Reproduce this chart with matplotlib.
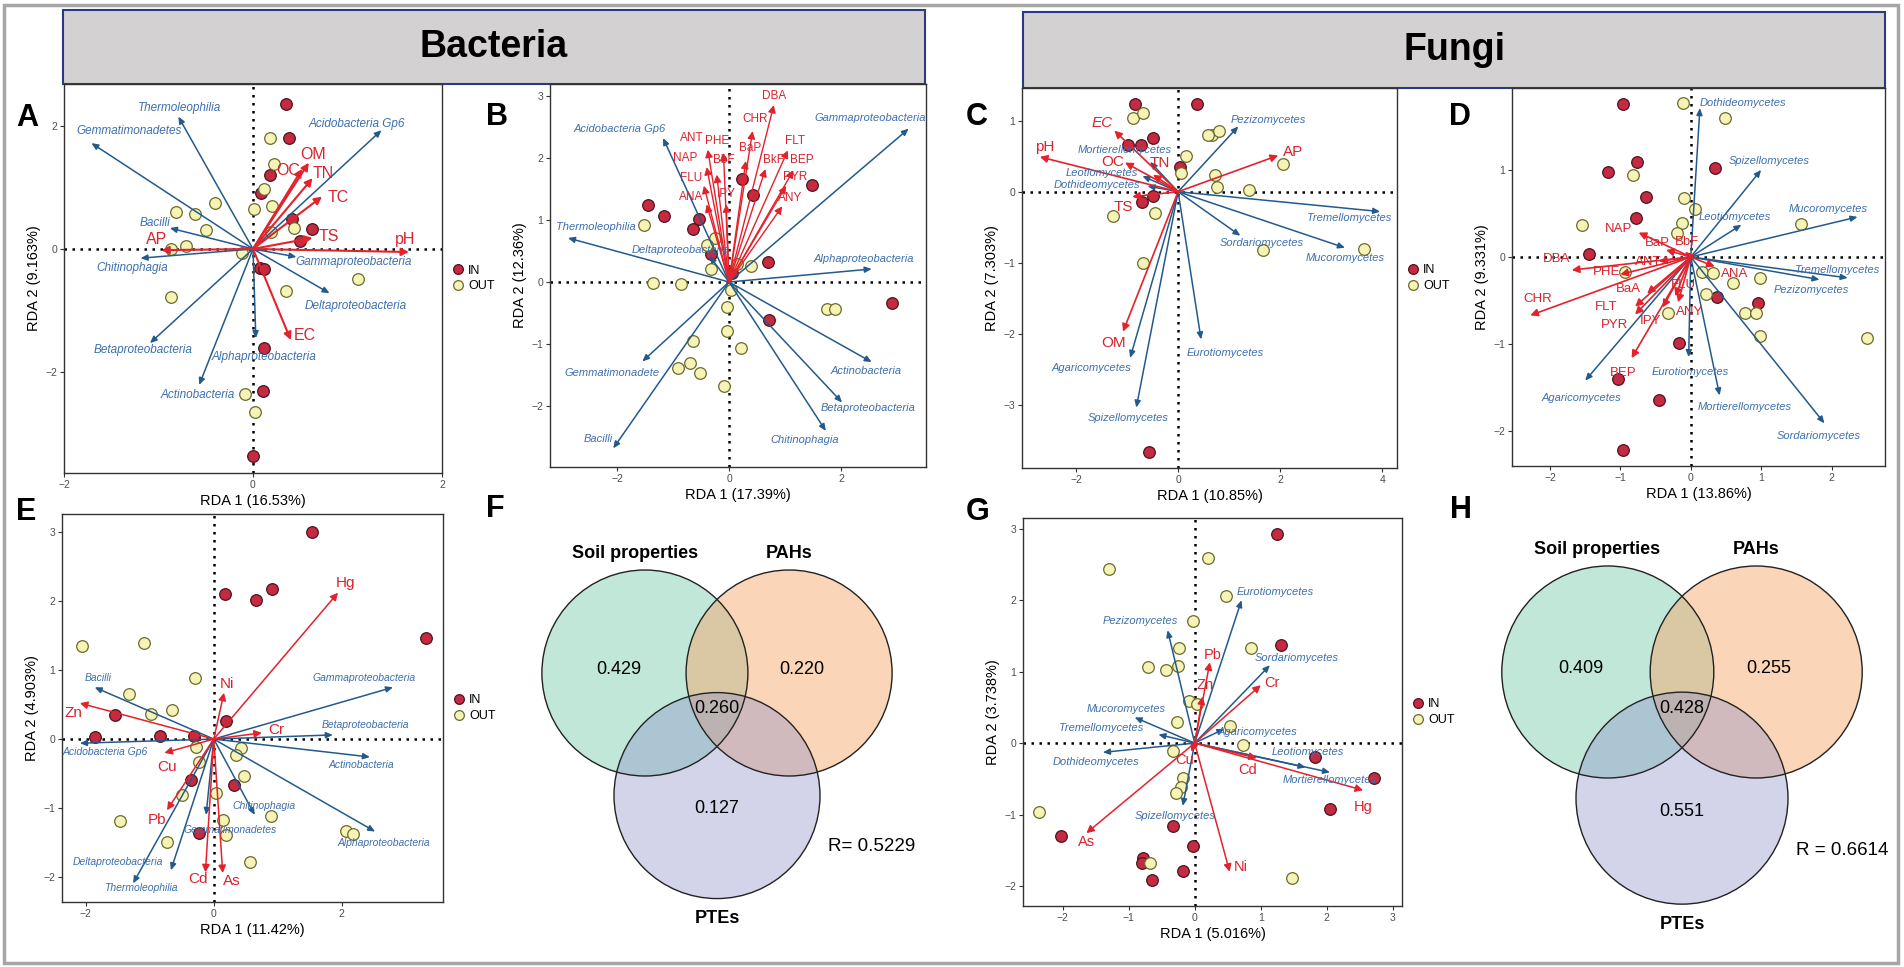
import matplotlib
matplotlib.use("Agg")
import matplotlib.pyplot as plt
from matplotlib.patches import Rectangle, Circle
from matplotlib.lines import Line2D

plt.rcParams['font.family'] = ['Liberation Sans', 'DejaVu Sans']

# ---------------- data ----------------
# Panel A: bacteria vs soil properties
A_in = [(0.35, 2.36), (0.38, 1.80), (0.18, 1.20), (0.08, 0.91), (0.41, 0.49), (0.62, 0.33),
        (0.50, 0.13), (0.07, -0.31), (0.12, -0.33), (0.12, -1.61), (0.11, -2.31), (0.0, -3.37)]
A_out = [(0.18, 1.80), (0.22, 1.38), (0.12, 0.97), (0.01, 0.65), (0.20, 0.69), (-0.40, 0.75),
         (-0.81, 0.60), (-0.61, 0.57), (-0.50, 0.31), (-0.87, 0.0), (-0.71, 0.05), (-0.12, -0.06),
         (0.19, 0.28), (0.43, 0.34), (-0.87, -0.78), (0.35, -0.68), (1.11, -0.49), (-0.08, -2.36),
         (0.02, -2.65)]
A_sp = ["Thermoleophilia", "Gemmatimonadetes", "Acidobacteria Gp6", "Bacilli", "Chitinophagia",
        "Gammaproteobacteria", "Deltaproteobacteria", "Betaproteobacteria", "Alphaproteobacteria",
        "Actinobacteria"]
A_sp_tip = [(-0.79, 2.15), (-1.71, 1.72), (1.36, 1.93), (-0.88, 0.34), (-1.19, -0.15),
            (0.46, -0.13), (0.81, -0.72), (-1.09, -1.53), (0.03, -1.45), (-0.57, -2.21)]
A_sp_lab = [(-0.78, 2.29), (-1.31, 1.92), (1.10, 2.03), (-1.04, 0.42), (-1.28, -0.31),
            (1.06, -0.21), (1.09, -0.93), (-1.16, -1.64), (0.12, -1.75), (-0.59, -2.37)]
A_env = ["OM", "OC", "TN", "TC", "TS", "pH", "AP", "EC"]
A_env_tip = [(0.59, 1.40), (0.52, 1.30), (0.63, 1.15), (0.73, 0.85), (0.63, 0.18),
             (1.65, -0.05), (-0.97, -0.02), (0.40, -1.48)]
A_env_lab = [(0.64, 1.54), (0.37, 1.27), (0.74, 1.23), (0.90, 0.83), (0.80, 0.20),
             (1.61, 0.15), (-1.02, 0.15), (0.55, -1.40)]

# Panel B: bacteria vs PAHs
B_in = [(-1.45, 1.24), (-1.16, 1.06), (-0.64, 0.85), (-0.54, 1.02), (-0.32, 0.45), (0.23, 1.66),
        (0.43, 1.40), (0.70, 0.32), (0.71, -0.61), (0.05, 0.15), (1.48, 1.56), (2.91, -0.34)]
B_out = [(-1.52, 0.92), (-0.25, 0.71), (-0.39, 0.60), (-0.32, 0.21), (0.14, 0.29), (0.39, 0.26),
         (-1.36, -0.02), (-0.86, -0.03), (0.04, -0.13), (-0.04, -0.40), (-0.04, -0.79),
         (-0.64, -0.95), (0.21, -1.06), (-0.70, -1.30), (-0.91, -1.39), (1.75, -0.44),
         (1.89, -0.44), (-0.52, -1.47), (-0.09, -1.68)]
B_sp = ["Acidobacteria Gp6", "Thermoleophilia", "Deltaproteobacteria", "Gemmatimonadete",
        "Bacilli", "Gammaproteobacteria", "Alphaproteobacteria", "Actinobacteria",
        "Betaproteobacteria", "Chitinophagia"]
B_sp_tip = [(-1.18, 2.32), (-2.88, 0.71), (-0.35, 0.42), (-1.55, -1.28), (-2.07, -2.68),
            (3.21, 2.47), (2.55, 0.21), (2.55, -1.29), (2.02, -1.94), (1.73, -2.40)]
B_sp_lab = [(-1.95, 2.47), (-2.38, 0.89), (-0.86, 0.52), (-2.09, -1.47), (-2.34, -2.53),
            (2.52, 2.65), (2.40, 0.37), (2.45, -1.44), (2.49, -2.03), (1.36, -2.55)]
B_env = ["DBA", "CHR", "FLT", "ANT", "PHE", "BaP", "NAP", "BbF", "BkF", "BEP",
         "FLU", "PYR", "ANA", "IPY", "ANY"]
B_env_tip = [(0.80, 2.85), (0.42, 2.43), (1.05, 2.12), (-0.38, 2.13), (-0.10, 2.08), (0.30, 1.95),
             (-0.40, 1.85), (-0.22, 1.73), (0.65, 1.82), (1.15, 1.80), (-0.45, 1.55),
             (1.02, 1.55), (-0.40, 1.25), (-0.05, 1.25), (0.95, 1.22)]
B_env_lab = [(0.80, 3.00), (0.46, 2.63), (1.18, 2.27), (-0.66, 2.32), (-0.21, 2.27), (0.38, 2.16),
             (-0.78, 2.00), (-0.10, 1.97), (0.80, 1.97), (1.30, 1.97), (-0.68, 1.68),
             (1.18, 1.69), (-0.68, 1.37), (-0.04, 1.42), (1.10, 1.35)]

# Panel C: fungi vs soil properties
C_in = [(-0.84, 1.23), (0.37, 1.24), (-0.98, 0.66), (-0.73, 0.66), (-0.49, 0.75), (0.04, 0.35),
        (-0.49, -0.06), (-0.71, -0.15), (-0.57, -3.66)]
C_out = [(0.67, 0.80), (0.80, 0.85), (0.73, 0.23), (0.76, 0.06), (1.39, 0.03), (2.06, 0.39),
         (1.67, -0.82), (3.65, -0.80), (-0.88, 1.04), (-0.69, 1.11), (0.16, 0.50), (0.06, 0.27),
         (0.59, 0.80), (-1.27, -0.34), (-0.45, -0.30), (-0.69, -1.00)]
C_sp = ["Mortierellomycetes", "Leotiomycetes", "Dothideomycetes", "Pezizomycetes",
        "Tremellomycetes", "Sordariomycetes", "Mucoromycetes", "Eurotiomycetes",
        "Agaricomycetes", "Spizellomycetes"]
C_sp_tip = [(-0.55, 0.42), (-0.70, 0.22), (-0.60, 0.08), (1.18, 0.92), (3.96, -0.28),
            (1.22, -0.62), (3.27, -0.79), (0.45, -2.08), (-0.94, -2.34), (-0.82, -3.04)]
C_sp_lab = [(-1.04, 0.59), (-1.49, 0.27), (-1.59, 0.10), (1.77, 1.01), (3.35, -0.37),
            (1.64, -0.72), (3.28, -0.93), (0.92, -2.27), (-1.69, -2.48), (-0.98, -3.18)]
C_env = ["EC", "pH", "OC", "TN", "TS", "OM", "AP"]
C_env_tip = [(-1.25, 0.86), (-2.71, 0.49), (-1.04, 0.41), (-0.49, 0.24), (-0.90, -0.07),
             (-1.08, -1.97), (1.96, 0.51)]
C_env_lab = [(-1.49, 0.97), (-2.61, 0.63), (-1.29, 0.42), (-0.35, 0.41), (-1.08, -0.21),
             (-1.27, -2.13), (2.25, 0.56)]

# Panel D: fungi vs PAHs
D_in = [(-0.96, 1.76), (-0.77, 1.09), (-1.18, 0.97), (0.34, 1.02), (-0.64, 0.69), (-0.78, 0.45),
        (0.37, -0.46), (0.96, -0.53), (-0.17, -0.99), (-0.45, -1.64), (-1.45, 0.03),
        (-1.04, -1.40), (-0.96, -2.22)]
D_out = [(-0.11, 1.77), (0.48, 1.60), (-0.82, 0.94), (-0.09, 0.68), (0.06, 0.55), (-0.13, 0.39),
         (-0.20, 0.28), (1.57, 0.38), (-0.94, -0.17), (0.16, -0.17), (0.31, -0.18), (0.60, -0.30),
         (0.98, -0.24), (0.21, -0.43), (-0.33, -0.64), (0.77, -0.64), (0.93, -0.64), (0.99, -0.91),
         (2.51, -0.93), (-1.55, 0.37)]
D_sp = ["Dothideomycetes", "Spizellomycetes", "Leotiomycetes", "Mucoromycetes", "Tremellomycetes",
        "Pezizomycetes", "Eurotiomycetes", "Mortierellomycetes", "Sordariomycetes", "Agaricomycetes"]
D_sp_tip = [(0.13, 1.71), (1.00, 1.00), (0.72, 0.37), (2.37, 0.46), (2.23, -0.24), (1.83, -0.26),
            (-0.03, -1.15), (0.41, -1.59), (1.90, -1.91), (-1.50, -1.42)]
D_sp_lab = [(0.74, 1.77), (1.12, 1.10), (0.62, 0.46), (1.96, 0.55), (2.08, -0.15), (1.72, -0.38),
            (0.00, -1.32), (0.77, -1.72), (1.82, -2.06), (-1.55, -1.62)]
D_env = ["NAP", "BaP", "BbF", "ANT", "DBA", "PHE", "CHR", "BaA", "FLT", "PYR", "IPY",
         "FLU", "ANY", "ANA", "BEP"]
D_env_tip = [(-0.74, 0.28), (-0.35, 0.08), (-0.08, 0.06), (-0.45, -0.05), (-1.69, -0.15),
             (-1.00, -0.20), (-2.28, -0.67), (-0.62, -0.42), (-0.79, -0.57), (-0.79, -0.66),
             (-0.40, -0.58), (-0.22, -0.45), (-0.18, -0.52), (0.34, -0.11), (-0.84, -1.16)]
D_env_lab = [(-1.03, 0.32), (-0.48, 0.16), (-0.05, 0.17), (-0.60, -0.06), (-1.90, -0.02),
             (-1.19, -0.17), (-2.18, -0.48), (-0.88, -0.37), (-1.20, -0.57), (-1.08, -0.78),
             (-0.58, -0.74), (-0.10, -0.32), (-0.02, -0.63), (0.62, -0.19), (-0.96, -1.33)]

# Panel E: bacteria vs PTEs
E_in = [(1.54, 3.0), (0.18, 2.10), (0.66, 2.01), (0.91, 2.17), (3.31, 1.46), (-1.85, 0.03),
        (-1.55, 0.35), (-0.84, 0.04), (-0.31, 0.04), (0.19, 0.26), (-0.36, -0.59), (0.32, -0.67),
        (-0.23, -1.36)]
E_out = [(-2.05, 1.35), (-1.09, 1.39), (-0.30, 0.88), (-1.32, 0.65), (-0.98, 0.36), (-0.65, 0.42),
         (-0.27, -0.11), (0.43, -0.13), (0.34, -0.23), (0.48, -0.54), (-0.23, -0.33), (-0.49, -0.81),
         (0.03, -0.78), (0.14, -1.17), (0.19, -1.39), (0.89, -1.12), (-1.46, -1.19), (-0.73, -1.49),
         (0.56, -1.78), (2.06, -1.33), (2.17, -1.38)]
E_sp = ["Bacilli", "Acidobacteria Gp6", "Gammaproteobacteria", "Betaproteobacteria",
        "Actinobacteria", "Alphaproteobacteria", "Chitinophagia", "Gemmatimonadetes",
        "Deltaproteobacteria", "Thermoleophilia"]
E_sp_tip = [(-1.86, 0.75), (-2.09, -0.06), (2.80, 0.75), (1.86, 0.06), (2.44, -0.26),
            (2.52, -1.34), (0.64, -1.10), (-0.12, -1.10), (-0.67, -1.90), (-1.26, -2.09)]
E_sp_lab = [(-1.81, 0.88), (-1.70, -0.19), (2.35, 0.88), (2.37, 0.20), (2.30, -0.38),
            (2.66, -1.51), (0.78, -0.97), (0.26, -1.32), (-1.50, -1.78), (-1.14, -2.16)]
E_env = ["Hg", "Ni", "Zn", "Cr", "Cu", "Pb", "Cd", "As"]
E_env_tip = [(1.94, 2.12), (0.16, 0.67), (-2.09, 0.52), (0.75, 0.09), (-0.77, -0.20),
             (-0.73, -1.03), (-0.13, -1.93), (0.14, -1.94)]
E_env_lab = [(2.05, 2.26), (0.20, 0.80), (-2.19, 0.38), (0.98, 0.13), (-0.73, -0.41),
             (-0.89, -1.17), (-0.25, -2.03), (0.28, -2.06)]

# Panel G: fungi vs PTEs
G_in = [(1.24, 2.92), (1.30, 1.37), (1.82, -0.20), (2.71, -0.49), (2.05, -0.92), (-2.02, -1.30),
        (-0.33, -1.16), (-0.03, -1.44), (-0.79, -1.61), (-0.80, -1.68), (-0.18, -1.79),
        (-0.64, -1.92)]
G_out = [(-1.30, 2.43), (0.20, 2.59), (0.47, 2.06), (-0.03, 1.71), (-0.24, 1.33), (-0.71, 1.06),
         (-0.44, 1.02), (-0.26, 1.08), (0.85, 1.33), (0.53, 0.24), (0.73, -0.03), (1.47, -1.89),
         (-0.09, 0.59), (0.03, 0.55), (-0.27, 0.29), (-0.33, -0.11), (-0.18, -0.49), (-0.21, -0.61),
         (-0.29, -0.70), (-2.36, -0.96), (-0.67, -1.68)]
G_sp = ["Pezizomycetes", "Eurotiomycetes", "Sordariomycetes", "Agaricomycetes", "Leotiomycetes",
        "Mortierellomycetes", "Mucoromycetes", "Tremellomycetes", "Dothideomycetes",
        "Spizellomycetes"]
G_sp_tip = [(-0.41, 1.58), (0.71, 2.00), (1.14, 1.09), (0.45, 0.20), (2.05, -0.41), (1.68, -0.34),
            (-0.91, 0.36), (-0.55, 0.12), (-1.39, -0.13), (-0.18, -0.88)]
G_sp_lab = [(-0.82, 1.71), (1.22, 2.11), (1.55, 1.19), (0.95, 0.15), (1.71, -0.13), (2.05, -0.52),
            (-1.03, 0.47), (-1.41, 0.21), (-1.50, -0.27), (-0.29, -1.02)]
G_env = ["Pb", "Zn", "Cr", "Cd", "Hg", "Ni", "As", "Cu"]
G_env_tip = [(0.23, 1.13), (0.12, 0.65), (1.00, 0.81), (0.94, -0.21), (2.55, -0.66), (0.53, -1.80),
             (-1.64, -1.26), (-0.05, -0.12)]
G_env_lab = [(0.27, 1.23), (0.15, 0.81), (1.17, 0.84), (0.80, -0.38), (2.55, -0.90), (0.70, -1.73),
             (-1.64, -1.38), (-0.15, -0.24)]

# Venn diagrams (variation partitioning)
venn_sets = ["Soil properties", "PAHs", "PTEs"]
F_vals = [0.429, 0.220, 0.260, 0.127]
F_R = 0.5229
H_vals = [0.409, 0.255, 0.428, 0.551]
H_R = 0.6614

# ---------------- styling ----------------
W, H = 1904, 967
IN_FC, IN_EC = '#c42a40', '#4d1420'
OUT_FC, OUT_EC = '#f6f3b6', '#6c6a2c'
SP_ARROW, SP_TEXT = '#235a8c', '#3d6fae'
ENV_ARROW, ENV_TEXT = '#e3222c', '#d8232f'

fig = plt.figure(figsize=(W / 100, H / 100), dpi=100)
fig.patch.set_facecolor('white')

ov = fig.add_axes([0, 0, 1, 1])
ov.set_xlim(0, W)
ov.set_ylim(H, 0)
ov.axis('off')


def px_axes(x0, y0, x1, y1):
    return fig.add_axes([x0 / W, 1 - y1 / H, (x1 - x0) / W, (y1 - y0) / H])


def rda(box, xlim, ylim, xt, yt, xlab, ylab, pin, pout, sp, sp_tip, sp_lab,
        env, env_tip, env_lab, sp_fs=8, env_fs=10, env_lw=1.2, italic_env=()):
    ax = px_axes(*box)
    ax.set_xlim(*xlim)
    ax.set_ylim(*ylim)
    ax.axhline(0, color='black', lw=1.8, ls=(0, (1, 2.2)), zorder=1)
    ax.axvline(0, color='black', lw=1.8, ls=(0, (1, 2.2)), zorder=1)
    ax.scatter([p[0] for p in pin], [p[1] for p in pin], s=70, c=IN_FC,
               edgecolors=IN_EC, linewidths=0.9, zorder=2)
    ax.scatter([p[0] for p in pout], [p[1] for p in pout], s=70, c=OUT_FC,
               edgecolors=OUT_EC, linewidths=0.9, zorder=2)
    for tip in sp_tip:
        ax.annotate('', xy=tip, xytext=(0, 0), zorder=3,
                    arrowprops=dict(arrowstyle='-|>,head_length=0.5,head_width=0.22',
                                    color=SP_ARROW, lw=1.1, shrinkA=0, shrinkB=0,
                                    mutation_scale=8))
    for tip in env_tip:
        ax.annotate('', xy=tip, xytext=(0, 0), zorder=3,
                    arrowprops=dict(arrowstyle='-|>,head_length=0.55,head_width=0.28',
                                    color=ENV_ARROW, lw=env_lw, shrinkA=0, shrinkB=0,
                                    mutation_scale=8))
    for name, (x, y) in zip(sp, sp_lab):
        ax.text(x, y, name, fontsize=sp_fs, style='italic', color=SP_TEXT,
                ha='center', va='center', zorder=4)
    for name, (x, y) in zip(env, env_lab):
        ax.text(x, y, name, fontsize=env_fs, color=ENV_TEXT, ha='center', va='center',
                style='italic' if name in italic_env else 'normal', zorder=4)
    ax.set_xticks(xt)
    ax.set_yticks(yt)
    ax.tick_params(length=3, width=0.8, color='#333333', labelsize=7.5,
                   labelcolor='#4d4d4d', pad=2)
    for s in ax.spines.values():
        s.set_color('#333333')
        s.set_linewidth(1.0)
    ax.set_xlabel(xlab, fontsize=10.5, labelpad=3)
    ax.set_ylabel(ylab, fontsize=10.5, labelpad=3)
    return ax


def add_legend(ax):
    h_in = Line2D([], [], marker='o', ls='none', mfc=IN_FC, mec=IN_EC, ms=7, mew=0.9)
    h_out = Line2D([], [], marker='o', ls='none', mfc=OUT_FC, mec=OUT_EC, ms=7, mew=0.9)
    ax.legend([h_in, h_out], ['IN', 'OUT'], loc='center left', bbox_to_anchor=(1.0, 0.5),
              frameon=False, fontsize=9, handletextpad=0.3, handlelength=1.0,
              borderaxespad=0.4, labelspacing=0.3)


def venn(cx, cy, r, vals, rtxt):
    centers = [(cx - 0.70 * r, cy), (cx + 0.70 * r, cy), (cx, cy + 1.19 * r)]
    cols = ['#7fcdb0', '#f5a86a', '#8c90c8']
    alphas = [0.48, 0.48, 0.38]
    for c, col, a in zip(centers, cols, alphas):
        ov.add_patch(Circle(c, r, fc=col, alpha=a, ec='none'))
    for c in centers:
        ov.add_patch(Circle(c, r, fill=False, ec='#222222', lw=1.0))
    ov.text(cx - 0.80 * r, cy - 1.16 * r, venn_sets[0], fontsize=13, weight='bold',
            ha='center', va='center')
    ov.text(cx + 0.70 * r, cy - 1.16 * r, venn_sets[1], fontsize=13, weight='bold',
            ha='center', va='center')
    ov.text(cx, cy + 2.38 * r, venn_sets[2], fontsize=13, weight='bold',
            ha='center', va='center')
    pos = [(cx - 0.95 * r, cy - 0.03 * r), (cx + 0.82 * r, cy - 0.03 * r),
           (cx, cy + 0.34 * r), (cx, cy + 1.32 * r)]
    for v, (x, y) in zip(vals, pos):
        ov.text(x, y, f"{v:.3f}", fontsize=13, ha='center', va='center')
    ov.text(cx + 1.08 * r, cy + 1.68 * r, rtxt, fontsize=13.5, ha='left', va='center')


# outer frame and headers
ov.add_patch(Rectangle((4, 5), 1894, 958, fill=False, ec='#a6a6a6', lw=2.5))
ov.add_patch(Rectangle((63, 10), 862, 74, fc='#d3d1d1', ec='#2b3a80', lw=1.5))
ov.add_patch(Rectangle((1023, 12), 862, 76, fc='#d3d1d1', ec='#2b3a80', lw=1.5))
ov.text(494, 47, "Bacteria", fontsize=27, weight='bold', ha='center', va='center')
ov.text(1454, 50, "Fungi", fontsize=27, weight='bold', ha='center', va='center')

for lab, x, y in [("A", 27, 118), ("B", 497, 117), ("C", 977, 117), ("D", 1460, 117),
                  ("E", 26, 512), ("F", 495, 509), ("G", 978, 512), ("H", 1461, 510)]:
    ov.text(x, y, lab, fontsize=22, weight='bold', ha='center', va='center')

axA = rda((64, 84, 442, 473), (-1.89, 1.85), (-3.64, 2.68), [-2, 0, 2], [-2, 0, 2],
          "RDA 1 (16.53%)", "RDA 2 (9.163%)", A_in, A_out, A_sp, A_sp_tip, A_sp_lab,
          A_env, A_env_tip, A_env_lab, sp_fs=8.5, env_fs=11.5, env_lw=1.5)
add_legend(axA)

rda((550, 84, 926, 467), (-3.2, 3.52), (-2.98, 3.19), [-2, 0, 2], [-2, -1, 0, 1, 2, 3],
    "RDA 1 (17.39%)", "RDA 2 (12.36%)", B_in, B_out, B_sp, B_sp_tip, B_sp_lab,
    B_env, B_env_tip, B_env_lab, sp_fs=8, env_fs=8.5, env_lw=1.0)

axC = rda((1022, 88, 1397, 468), (-3.06, 4.29), (-3.89, 1.46), [-2, 0, 2, 4], [-3, -2, -1, 0, 1],
          "RDA 1 (10.85%)", "RDA 2 (7.303%)", C_in, C_out, C_sp, C_sp_tip, C_sp_lab,
          C_env, C_env_tip, C_env_lab, sp_fs=8, env_fs=11, env_lw=1.2, italic_env=("EC",))
add_legend(axC)

rda((1512, 88, 1885, 466), (-2.54, 2.76), (-2.40, 1.94), [-2, -1, 0, 1, 2], [-2, -1, 0, 1],
    "RDA 1 (13.86%)", "RDA 2 (9.331%)", D_in, D_out, D_sp, D_sp_tip, D_sp_lab,
    D_env, D_env_tip, D_env_lab, sp_fs=8, env_fs=9.5, env_lw=1.2)

axE = rda((62, 514, 443, 902), (-2.37, 3.58), (-2.36, 3.26), [-2, 0, 2], [-2, -1, 0, 1, 2, 3],
          "RDA 1 (11.42%)", "RDA 2 (4.903%)", E_in, E_out, E_sp, E_sp_tip, E_sp_lab,
          E_env, E_env_tip, E_env_lab, sp_fs=7.5, env_fs=11, env_lw=1.1)
add_legend(axE)

axG = rda((1023, 518, 1402, 906), (-2.6, 3.14), (-2.28, 3.15), [-2, -1, 0, 1, 2, 3],
          [-2, -1, 0, 1, 2, 3], "RDA 1 (5.016%)", "RDA 2 (3.738%)", G_in, G_out, G_sp,
          G_sp_tip, G_sp_lab, G_env, G_env_tip, G_env_lab, sp_fs=8, env_fs=10.5, env_lw=1.1)
add_legend(axG)

venn(717, 673, 103, F_vals, f"R= {F_R}")
venn(1682, 672, 106, H_vals, f"R = {H_R}")

fig.savefig("out.png", dpi=100)
